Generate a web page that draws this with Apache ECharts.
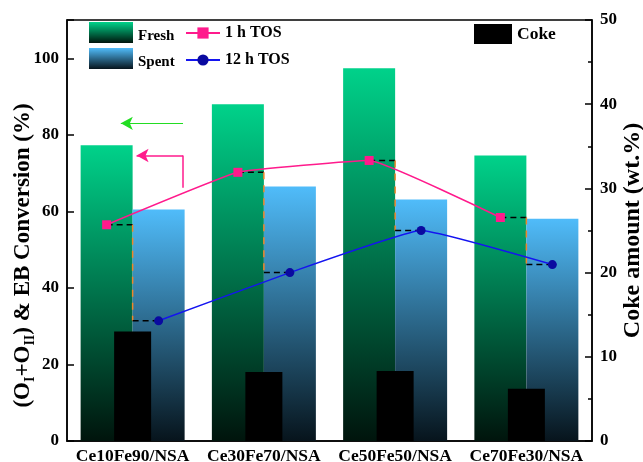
<!DOCTYPE html>
<html><head><meta charset="utf-8">
<script src="https://cdn.jsdelivr.net/npm/echarts@6/dist/echarts.min.js"></script>
<style>html,body{margin:0;padding:0;background:#fff}#c{width:643px;height:462px}</style>
</head><body><div id="c"></div>
<script>
const categories = ['Ce10Fe90/NSA', 'Ce30Fe70/NSA', 'Ce50Fe50/NSA', 'Ce70Fe30/NSA'];
const fresh = [77.3, 88.0, 97.4, 74.6];
const spent = [60.5, 66.5, 63.1, 58.1];
const coke = [13.0, 8.2, 8.3, 6.2];
const tos1h = [56.5, 70.2, 73.3, 58.4];
const tos12h = [31.4, 44.0, 55.0, 46.1];
const leftTicks = [0, 20, 40, 60, 80, 100];
const rightTicks = [0, 10, 20, 30, 40, 50];

const FONT = 'Liberation Serif';
const OFF = 0.198; // half bar width in category units
const chart = echarts.init(document.getElementById('c'), null, {renderer: 'canvas'});

const grad = (top, bottom) => new echarts.graphic.LinearGradient(0, 0, 0, 1, [
  {offset: 0, color: top}, {offset: 1, color: bottom}]);

const dashSeries = [];
categories.forEach((c, i) => {
  dashSeries.push({type: 'line', xAxisIndex: 2, yAxisIndex: 0, symbol: 'none', silent: true,
    lineStyle: {color: '#000', width: 1.5, type: [6, 4]}, z: 5,
    data: [[i - OFF, tos1h[i]], [i, tos1h[i]]]});
  dashSeries.push({type: 'line', xAxisIndex: 2, yAxisIndex: 0, symbol: 'none', silent: true,
    lineStyle: {color: '#f0862a', width: 1.5, type: [7, 6]}, z: 5,
    data: [[i, tos1h[i]], [i, tos12h[i]]]});
  dashSeries.push({type: 'line', xAxisIndex: 2, yAxisIndex: 0, symbol: 'none', silent: true,
    lineStyle: {color: '#000', width: 1.5, type: [6, 4]}, z: 5,
    data: [[i, tos12h[i]], [i + OFF, tos12h[i]]]});
});

const labelStyle = {fontFamily: FONT, fontWeight: 'bold', fontSize: 17, color: '#000'};

chart.setOption({
  animation: false,
  grid: {left: 67, right: 51, top: 20, bottom: 21, outerBoundsMode: 'none', containLabel: false,
    show: true, borderColor: '#000', borderWidth: 1.5, backgroundColor: 'transparent'},
  legend: [
    {data: ['Fresh', 'Spent'], orient: 'vertical', left: 89, top: 22, padding: 0, itemWidth: 44, itemHeight: 21, itemGap: 4, icon: 'rect',
      formatter: '{t|{name}}',
      textStyle: {rich: {t: {fontFamily: FONT, fontWeight: 'bold', fontSize: 15, color: '#000', padding: [8, 0, 0, 0]}}}},
    {data: ['1 h TOS', '12 h TOS'], orient: 'vertical', left: 185, top: 25, padding: 0, itemWidth: 34, itemHeight: 14, itemGap: 11,
      textStyle: {fontFamily: FONT, fontWeight: 'bold', fontSize: 16, color: '#000'}},
    {data: ['Coke'], left: 474, top: 24, padding: 0, itemWidth: 38, itemHeight: 20, icon: 'rect',
      textStyle: {fontFamily: FONT, fontWeight: 'bold', fontSize: 17.5, color: '#000'}}
  ],
  xAxis: [
    {type: 'category', data: categories, axisTick: {show: false},
      axisLine: {lineStyle: {color: '#000', width: 1.5}},
      axisLabel: Object.assign({margin: 6, interval: 0}, labelStyle, {fontSize: 17.5})},
    {type: 'category', data: categories, show: false},
    {type: 'value', min: -0.5, max: 3.5, show: false}
  ],
  yAxis: [
    {type: 'value', min: 0, max: 110, interval: 20, position: 'left',
      axisLine: {show: true, onZero: false, lineStyle: {color: '#000', width: 1.5}},
      axisTick: {show: true, inside: true, length: 7, lineStyle: {color: '#000', width: 1.5}},
      splitLine: {show: false},
      axisLabel: Object.assign({margin: 8,
        formatter: v => leftTicks.includes(v) ? String(v) : ''}, labelStyle),
      name: '{a|(O}{s|I}{a|+O}{s|II}{a|) & EB Conversion (%)}',
      nameLocation: 'middle', nameRotate: 90, nameGap: 30, nameMoveOverlap: false,
      nameTextStyle: {padding: [0, 50, 0, 0], rich: {
        a: {fontFamily: FONT, fontWeight: 'bold', fontSize: 23, color: '#000'},
        s: {fontFamily: FONT, fontWeight: 'bold', fontSize: 14, color: '#000', padding: [13, 0, 0, 0]}
      }}},
    {type: 'value', min: 0, max: 50, interval: 10, position: 'right',
      axisLine: {show: true, onZero: false, lineStyle: {color: '#000', width: 1.5}},
      axisTick: {show: true, inside: true, length: 7, lineStyle: {color: '#000', width: 1.5}},
      minorTick: {show: true, splitNumber: 2, length: 4, lineStyle: {color: '#000', width: 1.5}},
      splitLine: {show: false},
      axisLabel: Object.assign({margin: 8, formatter: v => rightTicks.includes(v) ? String(v) : ''}, labelStyle),
      name: 'Coke amount (wt.%)', nameLocation: 'middle', nameRotate: 90, nameGap: 29, nameMoveOverlap: false,
      nameTextStyle: {fontFamily: FONT, fontWeight: 'bold', fontSize: 24, color: '#000'}}
  ],
  series: [
    {name: 'Fresh', type: 'bar', xAxisIndex: 0, yAxisIndex: 0, data: fresh, barWidth: 52, barGap: '0%',
      itemStyle: {color: grad('#00d28a', '#00140c')}, z: 1},
    {name: 'Spent', type: 'bar', xAxisIndex: 0, yAxisIndex: 0, data: spent, barWidth: 52, barGap: '0%',
      itemStyle: {color: grad('#50bcfa', '#07141c')}, z: 1},
    {name: 'Coke', type: 'bar', xAxisIndex: 1, yAxisIndex: 1, data: coke, barWidth: 37,
      itemStyle: {color: '#000'}, z: 2},
    ...dashSeries,
    {name: '1 h TOS', type: 'line', xAxisIndex: 2, yAxisIndex: 0, smooth: 0.1,
      data: tos1h.map((v, i) => [i - OFF, v]), symbol: 'rect', symbolSize: 9,
      lineStyle: {color: '#ff1a8c', width: 1.5}, itemStyle: {color: '#ff1a8c'}, z: 6},
    {name: '12 h TOS', type: 'line', xAxisIndex: 2, yAxisIndex: 0, smooth: 0.1,
      data: tos12h.map((v, i) => [i + OFF, v]), symbol: 'circle', symbolSize: 9,
      lineStyle: {color: '#1414f0', width: 1.5}, itemStyle: {color: '#0a0aa0'}, z: 6},
    {type: 'line', xAxisIndex: 2, yAxisIndex: 0, data: [], silent: true,
      markLine: {silent: true, animation: false, symbol: ['none', 'arrow'], symbolSize: [10, 12],
        label: {show: false}, lineStyle: {type: 'solid'},
        data: [
          [{coord: [0.384, 83], lineStyle: {color: '#22dd22', width: 1, type: 'solid'}}, {coord: [-0.09, 83]}],
          [{coord: [0.384, 66.2], symbol: 'none', lineStyle: {color: '#ff1a8c', width: 1.5, type: 'solid'}}, {coord: [0.384, 74.6], symbol: 'none'}],
          [{coord: [0.384, 74.6], lineStyle: {color: '#ff1a8c', width: 1.5, type: 'solid'}}, {coord: [0.03, 74.6]}]
        ]}}
  ]
});
</script></body></html>
